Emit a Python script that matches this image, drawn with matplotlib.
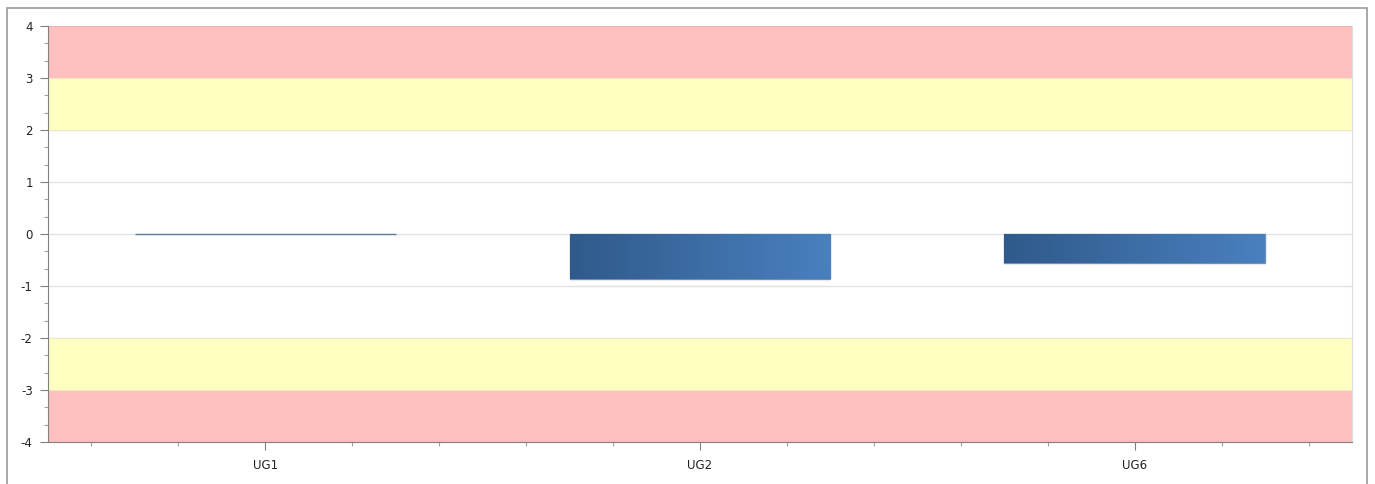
import numpy as np
import matplotlib
matplotlib.use("Agg")
import matplotlib.pyplot as plt
from matplotlib.patches import Rectangle
from matplotlib.colors import LinearSegmentedColormap
from matplotlib.ticker import MultipleLocator, FixedLocator

categories = ["UG1", "UG2", "UG6"]
values = [0.0, -0.87, -0.56]
y_ticks = [-4, -3, -2, -1, 0, 1, 2, 3, 4]

# warning / alarm bands
red_bands = [(3, 4), (-4, -3)]
yellow_bands = [(2, 3), (-3, -2)]

W, H = 1375, 484
fig = plt.figure(figsize=(W / 100, H / 100), dpi=100)
fig.patch.set_facecolor("white")

# outer frame
fig.patches.append(Rectangle((7 / W, -0.05), (1367 - 7) / W, 1.05 - 8 / H,
                             transform=fig.transFigure, fill=False,
                             edgecolor="#9a9a9a", linewidth=1.2))

ax = fig.add_axes([48 / W, (H - 442) / H, (1352 - 48) / W, (442 - 26) / H])
ax.set_xlim(-0.5, len(categories) - 0.5)
ax.set_ylim(-4, 4)

for y in y_ticks[1:-1]:
    ax.axhline(y, color="#e2e2e2", linewidth=1, zorder=0.5)

for lo, hi in red_bands:
    ax.axhspan(lo, hi, facecolor="#FFBFBF", edgecolor="#e6b4b4", linewidth=0.8, zorder=0.6)
for lo, hi in yellow_bands:
    ax.axhspan(lo, hi, facecolor="#FFFFC2", edgecolor="#ebebc4", linewidth=0.8, zorder=0.6)

x = np.arange(len(categories))
cmap = LinearSegmentedColormap.from_list("bar", ["#2f5a8b", "#4a80bf"])
grad = np.linspace(0, 1, 256).reshape(1, -1)
bars = ax.bar(x, values, width=0.6, color="#3d6da5", edgecolor="#7090b8",
              linewidth=1, zorder=2)
for b in bars:
    h = b.get_height()
    if h == 0:
        b.set_edgecolor("#5a7ca6")
        continue
    x0 = b.get_x()
    im = ax.imshow(grad, cmap=cmap, aspect="auto", zorder=2.5,
                   extent=[x0, x0 + b.get_width(), b.get_y(), b.get_y() + h])
    im.set_clip_path(b)
ax.set_xlim(-0.5, len(categories) - 0.5)
ax.set_ylim(-4, 4)

ax.set_yticks(y_ticks)
ax.set_yticklabels([str(v) for v in y_ticks])
ax.yaxis.set_minor_locator(MultipleLocator(1 / 3))
ax.set_xticks(x)
ax.set_xticklabels(categories)
ax.xaxis.set_minor_locator(FixedLocator(np.arange(-0.4, len(categories) - 0.5, 0.2)))

ax.tick_params(axis="both", which="major", length=6, width=0.8, color="#808080",
               labelsize=8.5, labelcolor="#222222", pad=5)
ax.tick_params(axis="both", which="minor", length=3, width=0.8, color="#a0a0a0")
ax.tick_params(axis="x", which="major", pad=6)

ax.spines["top"].set_visible(False)
ax.spines["right"].set_color("#dddddd")
ax.spines["left"].set_color("#808080")
ax.spines["bottom"].set_color("#808080")

fig.savefig("out.png", dpi=100, facecolor="white")
